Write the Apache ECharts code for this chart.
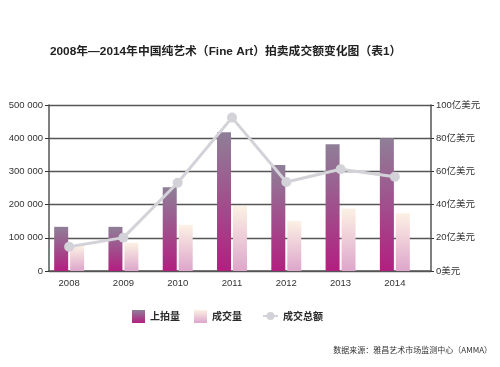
<!DOCTYPE html>
<html><head><meta charset="utf-8">
<script src="https://cdn.jsdelivr.net/npm/echarts@6/dist/echarts.min.js"></script>
<style>html,body{margin:0;padding:0;background:#fff}#c{width:500px;height:367px}</style>
</head><body><div id="c"></div>
<script>
const years = ['2008','2009','2010','2011','2012','2013','2014'];
const offered = [133000, 133000, 252000, 418000, 319000, 382000, 400000];
const sold = [76000, 85000, 139000, 196000, 151000, 188000, 174000];
const turnover = [14.6, 20.1, 53.2, 92.4, 53.6, 61.3, 56.8];
const leftTicks = ['0', '100 000', '200 000', '300 000', '400 000', '500 000'];
const rightTicks = ['0美元', '20亿美元', '40亿美元', '60亿美元', '80亿美元', '100亿美元'];
const names = ['上拍量', '成交量', '成交总额'];
const titleText = '2008年—2014年中国纯艺术（Fine Art）拍卖成交额变化图（表1）';
const sourceText = '数据来源：雅昌艺术市场监测中心（AMMA）';

const chart = echarts.init(document.getElementById('c'));
const txt = '#333';
const legendText = {fontSize:10,fontWeight:'bolder',color:'#2a2a2a',fontFamily:'"Noto Sans CJK SC", sans-serif'};
const purple = new echarts.graphic.LinearGradient(0,0,0,1,[{offset:0,color:'#8f7f98'},{offset:1,color:'#b21f80'}]);
const pink = new echarts.graphic.LinearGradient(0,0,0,1,[{offset:0,color:'#fcf1e4'},{offset:1,color:'#dda6cb'}]);
chart.setOption({
  animation:false,
  backgroundColor:'#fff',
  textStyle:{fontFamily:'"Liberation Sans", Arial, "Noto Sans CJK SC", sans-serif'},
  title:[{text:titleText,left:50,top:46,padding:0,textStyle:{fontSize:11.8,fontWeight:'bold',color:'#222',fontFamily:'"Liberation Sans", Arial, "Noto Sans CJK SC", sans-serif'}},
         {text:sourceText,right:8,top:346,padding:0,textStyle:{fontSize:8,fontWeight:'normal',color:'#333',fontFamily:'"Noto Sans CJK SC", serif'}}],
  legend:[
    {left:132,top:310,padding:0,itemWidth:13,itemHeight:13,itemGap:14,textStyle:legendText,
     data:[{name:names[0],icon:'rect'},{name:names[1],icon:'rect'}]},
    {left:262,top:311,padding:0,itemWidth:15,itemHeight:10,textStyle:legendText,data:[names[2]]}
  ],
  grid:[{left:49,right:69,top:105,bottom:96},{left:42,right:78,top:105,bottom:96}],
  xAxis:[
    {type:'category',gridIndex:0,data:years,axisLabel:{show:false},axisTick:{show:false},axisLine:{lineStyle:{color:'#555',width:1.5}}},
    {type:'category',gridIndex:1,data:years,axisLine:{show:false},axisTick:{show:false},axisLabel:{color:txt,fontSize:9.5,margin:8}}
  ],
  yAxis:[
    {type:'value',gridIndex:0,min:0,max:500000,interval:100000,position:'left',
     axisLine:{show:true,lineStyle:{color:'#555',width:1.5}},axisTick:{show:true,length:4,lineStyle:{color:'#333'}},
     splitLine:{lineStyle:{color:'#555',width:1.3}},
     axisLabel:{color:txt,fontSize:9.5,margin:6,formatter:(v,i)=>leftTicks[i]}},
    {type:'value',gridIndex:0,min:0,max:100,interval:20,position:'right',
     axisLine:{show:true,lineStyle:{color:'#555',width:1.5}},axisTick:{show:true,length:3,lineStyle:{color:'#333'}},
     splitLine:{show:false},
     axisLabel:{color:txt,fontSize:9.5,margin:5,formatter:(v,i)=>rightTicks[i]}},
    {type:'value',gridIndex:1,min:0,max:500000,show:false},
    {type:'value',gridIndex:1,min:0,max:100,show:false}
  ],
  series:[
    {name:names[0],type:'bar',xAxisIndex:1,yAxisIndex:2,data:offered,barWidth:14,barGap:'14%',itemStyle:{color:purple}},
    {name:names[1],type:'bar',xAxisIndex:1,yAxisIndex:2,data:sold,barWidth:14,itemStyle:{color:pink}},
    {name:names[2],type:'line',xAxisIndex:1,yAxisIndex:3,data:turnover,symbol:'circle',symbolSize:10,
     lineStyle:{color:'#d2d2d8',width:3},itemStyle:{color:'#d2d2d8'}}
  ]
});
</script></body></html>
